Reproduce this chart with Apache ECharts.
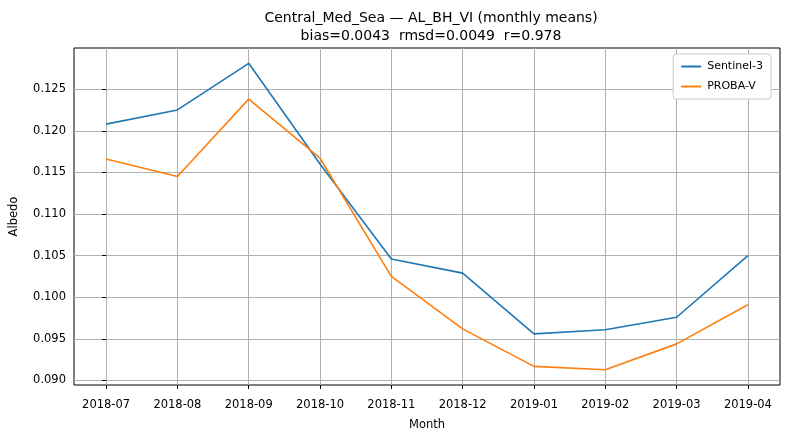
<!DOCTYPE html>
<html>
<head>
<meta charset="utf-8">
<script src="https://cdn.jsdelivr.net/npm/echarts@6/dist/echarts.min.js"></script>
<style>html,body{margin:0;padding:0;background:#fff}#c{width:789px;height:440px}</style>
</head>
<body>
<div id="c"></div>
<script>
var months = ['2018-07','2018-08','2018-09','2018-10','2018-11','2018-12','2019-01','2019-02','2019-03','2019-04'];
var sentinel = [0.1208,0.1225,0.1281,0.1160,0.1046,0.1029,0.0956,0.0961,0.0976,0.1050];
var proba = [0.1166,0.1145,0.1238,0.1167,0.1025,0.0962,0.0917,0.0913,0.0944,0.0991];
var yTicks = [0.090,0.095,0.100,0.105,0.110,0.115,0.120,0.125];

function pairs(arr){
    var out = [];
    for(var i=0;i<arr.length;i++){ out.push([i, arr[i]]); }
    return out;
}
var xIdx = [];
for(var i=0;i<months.length;i++){ xIdx.push(i); }

var myChart = echarts.init(document.getElementById('c'));
var font = 'DejaVu Sans';
var option = {
    animation: false,
    textStyle: {fontFamily: font},
    title: {
        text: 'Central_Med_Sea — AL_BH_VI (monthly means)\nbias=0.0043  rmsd=0.0049  r=0.978',
        left: 426, top: 4, textAlign: 'center',
        textStyle: {fontFamily: font, fontSize: 14, fontWeight: 'normal', color: '#000', lineHeight: 18}
    },
    legend: {
        orient: 'vertical', right: 18, top: 54,
        data: ['Sentinel-3','PROBA-V'],
        icon: 'path://M0,0 L20,0 L20,2 L0,2 Z',
        itemWidth: 22, itemHeight: 2, itemGap: 9,
        backgroundColor: '#fff', borderColor: '#ccc', borderWidth: 1, borderRadius: 3,
        padding: [7, 8, 7, 8],
        textStyle: {fontFamily: font, fontSize: 11, color: '#000'}
    },
    grid: {left: 72, right: 9, top: 48, bottom: 55, show: true, borderColor: '#000', borderWidth: 1},
    xAxis: {
        type: 'value', min: -0.45, max: 9.45,
        name: 'Month', nameLocation: 'middle', nameGap: 34,
        nameTextStyle: {fontFamily: font, fontSize: 11.5, color: '#000'},
        axisLine: {show: false},
        axisTick: {show: true, inside: false, customValues: xIdx, length: 4, lineStyle: {color: '#000'}},
        axisLabel: {customValues: xIdx, color: '#000', fontSize: 11.5, margin: 14,
            formatter: function(v){ return months[Math.round(v)]; }},
        splitLine: {show: true, lineStyle: {color: '#b0b0b0', width: 1}}
    },
    yAxis: {
        type: 'value', min: 0.08946, max: 0.12994,
        name: 'Albedo', nameLocation: 'middle', nameGap: 54,
        nameTextStyle: {fontFamily: font, fontSize: 11.5, color: '#000'},
        axisLine: {show: false},
        axisTick: {show: true, inside: false, customValues: yTicks, length: 4, lineStyle: {color: '#000'}},
        axisLabel: {customValues: yTicks, color: '#000', fontSize: 11.5, margin: 8,
            formatter: function(v){ return v.toFixed(3); }},
        splitLine: {show: true, lineStyle: {color: '#b0b0b0', width: 1}}
    },
    series: [
        {name: 'Sentinel-3', type: 'line', data: pairs(sentinel), showSymbol: false,
            lineStyle: {color: '#1f77b4', width: 1.6}, itemStyle: {color: '#1f77b4'}},
        {name: 'PROBA-V', type: 'line', data: pairs(proba), showSymbol: false,
            lineStyle: {color: '#ff7f0e', width: 1.6}, itemStyle: {color: '#ff7f0e'}}
    ]
};
myChart.setOption(option);
</script>
</body>
</html>
